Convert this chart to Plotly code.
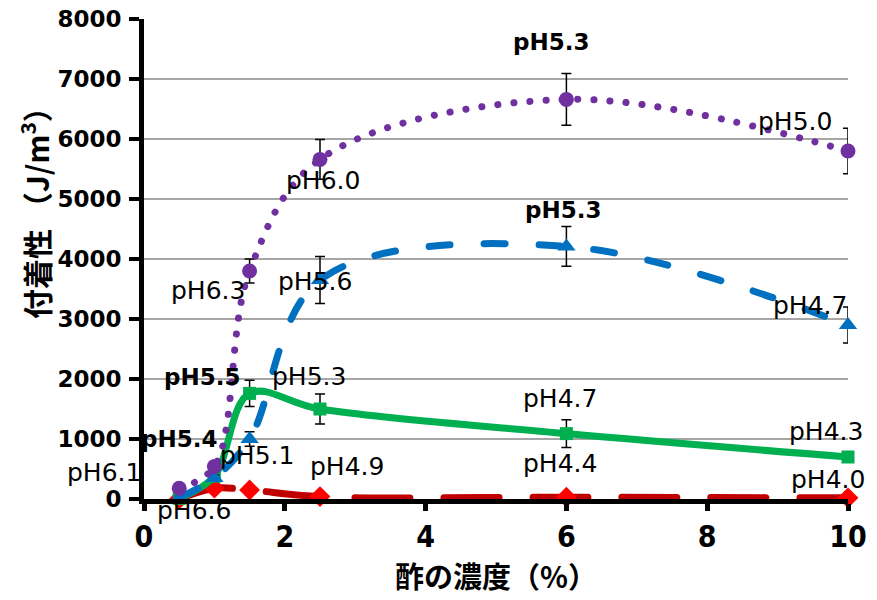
import plotly.graph_objects as go

# Vinegar concentration (%)
conc = [0.5, 1.0, 1.5, 2.5, 6.0, 10.0]

# Adhesiveness (J/m3) for the four samples, with standard deviations
adh_purple = [180, 540, 3800, 5660, 6660, 5800]
err_purple = [60, 80, 200, 330, 430, 380]
adh_blue = [20, 350, 1000, 3650, 4210, 2900]
err_blue = [20, 50, 120, 390, 330, 300]
adh_green = [10, 380, 1760, 1500, 1090, 700]
err_green = [10, 40, 220, 250, 230, 40]
adh_red = [0, 180, 150, 40, 30, 20]

# pH annotations in data coordinates: (x, y, text, bold)
ph_labels = [
    (5.78, 7620, "pH5.3", True),
    (9.25, 6290, "pH5.0", False),
    (2.54, 5310, "pH6.0", False),
    (0.91, 3480, "pH6.3", False),
    (2.43, 3620, "pH5.6", False),
    (5.95, 4820, "pH5.3", True),
    (9.46, 3230, "pH4.7", False),
    (0.82, 2040, "pH5.5", True),
    (2.34, 2050, "pH5.3", False),
    (5.91, 1670, "pH4.7", False),
    (9.69, 1120, "pH4.3", False),
    (0.50, 1000, "pH5.4", True),
    (1.61, 720, "pH5.1", False),
    (2.88, 540, "pH4.9", False),
    (5.91, 590, "pH4.4", False),
    (9.72, 330, "pH4.0", False),
]
# labels lying outside the axis ranges, in paper coordinates
ph_labels_outside = [
    (-0.057, 0.056, "pH6.1"),
    (0.071, -0.023, "pH6.6"),
]

x_ticks = [0, 2, 4, 6, 8, 10]
y_ticks = [0, 1000, 2000, 3000, 4000, 5000, 6000, 7000, 8000]

plot_l, plot_r, plot_t, plot_b = 144, 848, 19, 499

fig = go.Figure()

fig.add_trace(go.Scatter(
    x=conc, y=adh_red, mode="lines+markers", cliponaxis=False,
    line=dict(color="#C00000", width=7, shape="spline", dash="55px,34px"),
    marker=dict(symbol="diamond", size=16, color="#FF0000"),
))
fig.add_trace(go.Scatter(
    x=conc, y=adh_green, mode="lines+markers", cliponaxis=False,
    line=dict(color="#00B050", width=7, shape="spline"),
    marker=dict(symbol="square", size=13, color="#00B050"),
    error_y=dict(type="data", array=err_green, color="black", thickness=1.5, width=5),
))
fig.add_trace(go.Scatter(
    x=conc, y=adh_blue, mode="lines+markers", cliponaxis=False,
    line=dict(color="#0070C0", width=7, shape="spline", dash="21px,34px"),
    marker=dict(symbol="triangle-up", size=16, color="#0070C0"),
    error_y=dict(type="data", array=err_blue, color="black", thickness=1.5, width=5),
))
fig.add_trace(go.Scatter(
    x=conc, y=adh_purple, mode="lines+markers", cliponaxis=False,
    line=dict(color="#7030A0", width=7, shape="spline", dash="0.1px,16px"),
    marker=dict(symbol="circle", size=15, color="#7030A0"),
    error_y=dict(type="data", array=err_purple, color="black", thickness=1.5, width=5),
))

for x, y, t, b in ph_labels:
    fig.add_annotation(
        x=x, y=y, xref="x", yref="y", text=t, showarrow=False,
        xanchor="center", yanchor="middle",
        font=dict(family="DejaVu Sans", size=23 if b else 25,
                  color="black", weight="bold" if b else "normal"),
    )
for x, y, t in ph_labels_outside:
    fig.add_annotation(
        x=x, y=y, xref="paper", yref="paper", text=t, showarrow=False,
        xanchor="center", yanchor="middle",
        font=dict(family="DejaVu Sans", size=25, color="black"),
    )

# Rotated y-axis title, sitting a little above the axis middle
fig.add_annotation(
    x=(35 - plot_l) / (plot_r - plot_l), y=(plot_b - 206) / (plot_b - plot_t),
    xref="paper", yref="paper", text="付着性 （J/m<sup>3</sup>）",
    showarrow=False, textangle=-90, xanchor="center", yanchor="middle",
    font=dict(family="Noto Sans CJK JP", size=30, color="black", weight="bold"),
)

fig.update_xaxes(
    range=[0, 10], tickvals=x_ticks, ticktext=[str(v) for v in x_ticks],
    showline=True, linecolor="black", linewidth=5, automargin=False,
    ticks="outside", ticklen=7, tickwidth=5, tickcolor="black",
    showgrid=False, zeroline=False,
    tickfont=dict(family="DejaVu Sans Condensed, DejaVu Sans",
                  size=30, color="black", weight="bold"),
    title=dict(text="酢の濃度（%）", standoff=12,
               font=dict(family="Noto Sans CJK JP", size=29, color="black", weight="bold")),
)
fig.update_yaxes(
    range=[0, 8000], tickvals=y_ticks,
    showline=True, linecolor="black", linewidth=5, automargin=False,
    ticks="outside", ticklen=10, tickwidth=4, tickcolor="black",
    showgrid=True, gridcolor="#A6A6A6", gridwidth=2, zeroline=False,
    ticklabelstandoff=3,
    tickfont=dict(family="DejaVu Sans", size=23, color="black", weight="bold"),
)

fig.update_layout(
    width=877, height=600, showlegend=False,
    margin=dict(l=plot_l, r=877 - plot_r, t=plot_t, b=600 - plot_b),
    plot_bgcolor="white", paper_bgcolor="white",
)

round_caps = (
    "var g=document.getElementById('{plot_id}');"
    "g.querySelectorAll('.scatterlayer .js-line').forEach(function(p){"
    "p.style.strokeLinecap='round';});"
)
fig.write_html("out.html", post_script=round_caps)
